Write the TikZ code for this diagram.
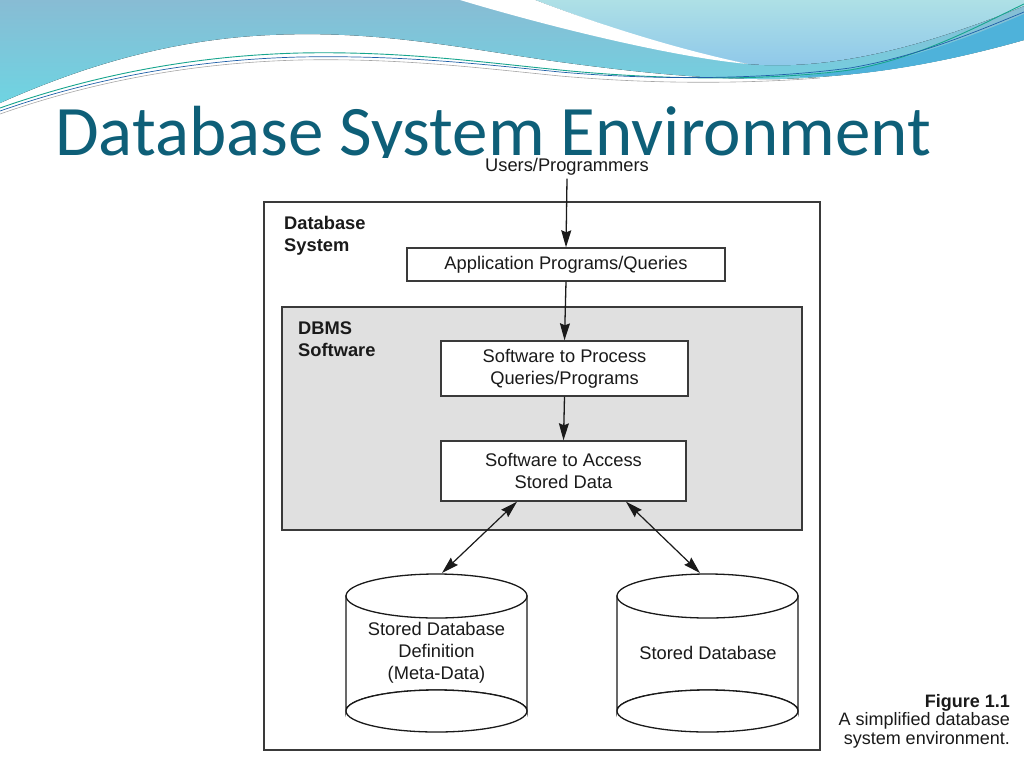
\documentclass[tikz,border=0pt]{standalone}
\usepackage{fontspec}
\setmainfont{Liberation Sans}
\newfontfamily\titlefont{Carlito}
\usetikzlibrary{arrows.meta,calc}
\definecolor{titleblue}{HTML}{0E5F78}
\definecolor{wavetop}{HTML}{88BCD4}
\definecolor{wavebot}{HTML}{6ED4E2}
\definecolor{lighttop}{HTML}{AEE0E6}
\definecolor{lightbot}{HTML}{8CC6EA}
\definecolor{darkband}{HTML}{4EB2DA}
\definecolor{lineteal}{HTML}{17A58E}
\definecolor{lineblue}{HTML}{1F5FA8}
\definecolor{dbmsgray}{HTML}{E0E0E0}
\definecolor{ink}{HTML}{1A1A1A}
\definecolor{edge}{HTML}{3A3A3A}
\newcommand\figfont{\fontsize{18.3}{22}\selectfont}
\newcommand\capfont{\fontsize{18}{18.5}\selectfont}
\tikzset{
  box/.style={draw=edge, line width=1.4pt, fill=white, inner sep=0pt, align=center, font=\figfont, text=ink},
  lbl/.style={inner sep=0pt, align=left, font=\figfont\bfseries, text=ink},
  tip/.tip={Stealth[length=17pt,width=10pt,inset=2pt]},
  arr/.style={-tip, line width=1.3pt, draw=ink},
  darr/.style={tip-tip, line width=1.2pt, draw=ink},
  cyl/.style={draw=ink, line width=1.3pt, fill=white},
}
\begin{document}
\begin{tikzpicture}[x=1pt,y=-1pt]
\useasboundingbox (0,0) rectangle (1024,768);
% background decoration
\fill[top color=wavetop, bottom color=wavebot]
  (0,0) -- (1024,0) -- (1024,40)
  .. controls (960,58) and (880,76) .. (780,79)
  .. controls (700,80) and (620,70) .. (560,62)
  .. controls (460,48) and (380,30) .. (270,35)
  .. controls (160,40) and (70,72) .. (0,103) -- cycle;
\fill[top color=lighttop, bottom color=lightbot]
  (535,0) .. controls (600,25) and (680,52) .. (748,64)
  .. controls (840,72) and (940,40) .. (1024,6) -- (1024,0) -- cycle;
\fill[white]
  (460,0) .. controls (560,30) and (680,58) .. (748,64)
  .. controls (680,50) and (600,25) .. (535,0) -- cycle;
\fill[darkband]
  (800,76) .. controls (880,70) and (960,42) .. (1024,14) -- (1024,40)
  .. controls (960,58) and (880,76) .. (800,77) -- cycle;
\draw[lineteal, line width=0.9pt]
  (0,108) .. controls (80,80) and (180,56) .. (300,53)
  .. controls (400,51) and (480,62) .. (560,70)
  .. controls (650,79) and (760,82) .. (850,70)
  .. controls (920,58) and (980,25) .. (1024,4);
\draw[lineblue, line width=0.7pt]
  (0,111) .. controls (80,83) and (180,60) .. (300,57)
  .. controls (400,55) and (480,64) .. (560,72)
  .. controls (650,80) and (760,80) .. (850,68)
  .. controls (920,56) and (980,30) .. (1024,12);
\draw[gray!70, line width=0.6pt]
  (0,114) .. controls (80,86) and (180,63) .. (300,60)
  .. controls (400,58) and (480,68) .. (560,76)
  .. controls (650,84) and (740,84) .. (820,78);
% title
\node[anchor=base west, inner sep=0pt, text=titleblue, font=\titlefont\fontsize{71}{80}\selectfont] (title) at (55,155) {Database System Environment};
% figure panel
\fill[white] (262,158) rectangle (1012,752);
% outer database system box
\draw[draw=edge, line width=1.4pt] (264,202) rectangle (820,750);
\node[lbl, anchor=north west] (dbsys) at (284,216) {Database\\System};
% DBMS box
\draw[draw=edge, line width=1.4pt, fill=dbmsgray] (282,307) rectangle (802,530);
\node[lbl, anchor=north west] (dbms) at (298,322) {DBMS\\Software};
% users
\node[inner sep=0pt, font=\figfont, text=ink] (users) at (567,167) {Users/Programmers};
% boxes
\node[box, minimum width=318pt, minimum height=33pt] (app) at (566,264.5) {Application Programs/Queries};
\node[box, minimum width=247pt, minimum height=55pt] (proc) at (564.5,368.5) {Software to Process\\Queries/Programs};
\node[box, minimum width=245pt, minimum height=60pt] (acc) at (563.5,471) {Software to Access\\Stored Data};
% cylinders
\draw[cyl] (346,596) -- (346,711) arc[start angle=180, end angle=360, x radius=90.5, y radius=21] -- (527,596) -- cycle;
\draw[cyl] (436.5,596) ellipse[x radius=90.5, y radius=22];
\draw[cyl] (436.5,711) ellipse[x radius=90.5, y radius=21];
\draw[cyl] (617,596) -- (617,711) arc[start angle=180, end angle=360, x radius=90.5, y radius=21] -- (798,596) -- cycle;
\draw[cyl] (707.5,596) ellipse[x radius=90.5, y radius=22];
\draw[cyl] (707.5,711) ellipse[x radius=90.5, y radius=21];
\node[inner sep=0pt, align=center, font=\figfont, text=ink] (meta) at (436.5,653) {Stored Database\\Definition\\(Meta-Data)};
\node[inner sep=0pt, align=center, font=\figfont, text=ink] (stored) at (708,653) {Stored Database};
\coordinate (metatop) at (442,573);
\coordinate (storedtop) at (700,573);
% connectors
\draw[arr] (users.south) ++(0,3) coordinate (u0) -- (app.north);
\draw[arr] (app.south) -- (proc.north);
\draw[arr] (proc.south) -- (acc.north);
\draw[darr] ($(acc.south)+(-46.5,0)$) -- (metatop);
\draw[darr] ($(acc.south)+(62.5,0)$) -- (storedtop);
% caption
\node[anchor=north east, inner sep=0pt, align=right, font=\capfont, text=ink] (cap) at (1010,694)
  {\textbf{Figure 1.1}\\A simplified database\\system environment.};
\end{tikzpicture}
\end{document}
